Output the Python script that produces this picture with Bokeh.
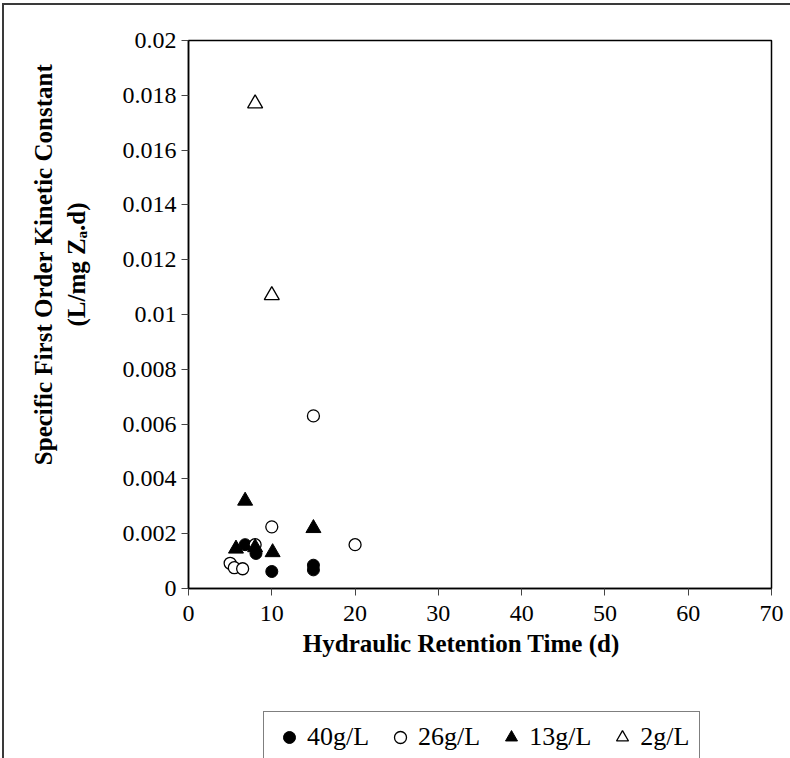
from bokeh.plotting import figure
from bokeh.layouts import column
from bokeh.models import Legend, LegendItem, Range1d, FixedTicker, InlineStyleSheet
from bokeh.embed import file_html
from bokeh.resources import INLINE

# ---- data ----
hrt_40 = [6.8, 8.1, 10.0, 15.0, 15.0]
k_40 = [0.0016, 0.00128, 0.00062, 0.00085, 0.00068]

hrt_26 = [5.0, 5.5, 6.5, 8.0, 10.0, 15.0, 20.0]
k_26 = [0.00092, 0.00076, 0.00072, 0.0016, 0.00225, 0.0063, 0.0016]

hrt_13 = [5.7, 6.8, 8.0, 10.1, 15.0]
k_13 = [0.00145, 0.0032, 0.0015, 0.00132, 0.0022]

hrt_2 = [8.0, 10.0]
k_2 = [0.0177, 0.0107]

series_labels = ["40g/L", "26g/L", "13g/L", "2g/L"]

x_ticks = [0, 10, 20, 30, 40, 50, 60, 70]
y_ticks = [0, 0.002, 0.004, 0.006, 0.008, 0.01, 0.012, 0.014, 0.016, 0.018, 0.02]
y_tick_labels = {0: "0", 0.002: "0.002", 0.004: "0.004", 0.006: "0.006", 0.008: "0.008",
                 0.01: "0.01", 0.012: "0.012", 0.014: "0.014", 0.016: "0.016",
                 0.018: "0.018", 0.02: "0.02"}

x_title = "Hydraulic Retention Time (d)"
y_title_1 = "Specific First Order Kinetic Constant"
y_title_2 = "(L/mg Zₐ.d)"

FONT = "Liberation Serif"
NB = "\u00a0"

styles = [
    dict(marker="circle", size=12, fill_color="black", line_color="black", line_width=1.0),
    dict(marker="circle", size=12, fill_color="white", line_color="black", line_width=1.3),
    dict(marker="triangle", size=15, fill_color="black", line_color="black", line_width=1.0),
    dict(marker="triangle", size=15, fill_color="white", line_color="black", line_width=1.3),
]
series_x = [hrt_40, hrt_26, hrt_13, hrt_2]
series_y = [k_40, k_26, k_13, k_2]

# ---- main chart ----
p = figure(width=786, height=705, output_backend="svg", toolbar_location=None,
           x_range=Range1d(0, 70), y_range=Range1d(0, 0.02),
           min_border_left=184, min_border_right=19, min_border_top=35,
           min_border_bottom=122)
p.grid.visible = False
p.outline_line_color = "black"
p.outline_line_width = 1.5
p.background_fill_color = "white"
p.border_fill_color = "white"

for ax in (p.xaxis[0], p.yaxis[0]):
    ax.axis_line_color = "black"
    ax.axis_line_width = 1.5
    ax.major_tick_line_color = "#444444"
    ax.major_tick_in = 0
    ax.major_tick_out = 7
    ax.minor_tick_line_color = None
    ax.major_label_text_font = FONT
    ax.major_label_text_font_size = "24px"
    ax.major_label_text_color = "black"
    ax.axis_label_text_font = FONT
    ax.axis_label_text_font_style = "bold"
    ax.axis_label_text_font_size = "25px"
    ax.axis_label_text_color = "black"

p.xaxis.ticker = FixedTicker(ticks=x_ticks)
p.yaxis.ticker = FixedTicker(ticks=y_ticks)
p.yaxis.major_label_overrides = y_tick_labels
p.xaxis.major_label_standoff = 10
p.yaxis.major_label_standoff = 5
# non-breaking spaces shift the centred titles slightly, as in the original
p.xaxis.axis_label = x_title + NB * 6
p.xaxis.axis_label_standoff = 6
p.yaxis.axis_label = NB * 16 + y_title_1 + "\n" + NB * 16 + y_title_2
p.yaxis.axis_label_standoff = 30

for xs, ys, st in zip(series_x, series_y, styles):
    p.scatter(xs, ys, **st)

# ---- legend strip below the chart ----
p2 = figure(width=786, height=48, output_backend="svg", toolbar_location=None,
            x_range=Range1d(0, 70), y_range=Range1d(1, 2),
            x_axis_location=None, y_axis_location=None,
            min_border_left=184, min_border_right=19, min_border_top=0,
            min_border_bottom=0)
p2.grid.visible = False
p2.outline_line_color = None
p2.background_fill_color = "white"
p2.border_fill_color = "white"

items = []
for lab, xs, ys, st in zip(series_labels, series_x, series_y, styles):
    r = p2.scatter(xs, ys, **st)   # points fall outside this strip's range; only the legend key shows
    items.append(LegendItem(label=lab, renderers=[r]))

legend = Legend(items=items, orientation="horizontal", location=(75, -5),
                label_text_font=FONT, label_text_font_size="26px",
                label_text_color="black",
                glyph_width=30, glyph_height=30, label_standoff=3, spacing=16,
                padding=10, margin=0,
                border_line_color="black", border_line_width=1.3,
                background_fill_color="white", background_fill_alpha=1)
p2.add_layout(legend, "center")

layout = column(p, p2, spacing=0)
layout.stylesheets = [InlineStyleSheet(css=":host { border-top: 2px solid #3a3a3a; border-left: 2px solid #3a3a3a; margin-left: 2px; margin-top: 3px; }")]

open("out.html", "w").write(file_html(layout, INLINE))
